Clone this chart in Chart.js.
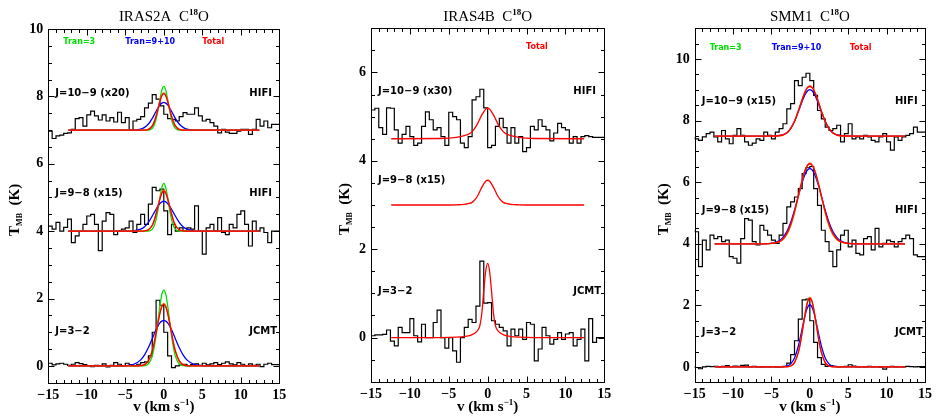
<!DOCTYPE html>
<html><head><meta charset="utf-8">
<script src="https://cdn.jsdelivr.net/npm/chart.js@4.4.1/dist/chart.umd.min.js"></script>
<style>
html,body{margin:0;padding:0;background:#fff;}
#wrap{position:relative;width:936px;height:417px;overflow:hidden;background:#fff;}
canvas{position:absolute;top:0;}
</style></head><body>
<div id="wrap">
<canvas id="c1" width="312" height="417" style="left:0px"></canvas>
<canvas id="c2" width="312" height="417" style="left:312px"></canvas>
<canvas id="c3" width="312" height="417" style="left:624px"></canvas>
</div>
<script>
// ---------------- DATA ----------------
// channel edges (km/s) of the observed spectra
const chanEdges = [-15,-14.5,-14,-13.5,-13,-12.5,-12,-11.5,-11,-10.5,-10,-9.5,-9,-8.5,-8,-7.5,-7,-6.5,-6,-5.5,-5,-4.5,-4,-3.5,-3,-2.5,-2,-1.5,-1,-0.5,0,0.5,1,1.5,2,2.5,3,3.5,4,4.5,5,5.5,6,6.5,7,7.5,8,8.5,9,9.5,10,10.5,11,11.5,12,12.5,13,13.5,14,14.5,15];
// velocities at which the model profiles are sampled (km/s)
const fitVel = [-12.4,-6,-4,-3,-2.5,-2,-1.5,-1.25,-1,-0.75,-0.5,-0.25,0,0.25,0.5,0.75,1,1.25,1.5,2,2.5,3,4,6,12.4];

const xTickValues = [-15,-10,-5,0,5,10,15];
const yTicksIRAS2A = [0,2,4,6,8,10];
const yTicksIRAS4B = [0,2,4,6];
const yTicksSMM1 = [0,2,4,6,8,10];

// IRAS2A observed spectra (T_MB, K, with offsets)
const iras2a_J109 = [7.03,6.97,6.75,6.83,6.85,6.9,6.92,7.02,7.34,7.37,7.12,7.45,7.56,7.42,7.3,7.45,7.27,7.37,7.24,7.53,7.22,7.37,7.0,7.27,7.32,7.4,7.66,7.8,8.05,7.92,7.72,7.47,7.34,7.32,7.27,7.4,7.52,7.47,7.47,7.66,7.42,7.27,7.32,7.22,7.12,6.92,7.02,6.94,6.9,6.9,6.97,7.02,7.02,6.87,7.02,7.32,7.12,7.27,7.07,7.17];
const iras2a_J98 = [4.11,4.15,4.06,4.26,4.0,4.11,4.36,3.66,3.86,4.0,4.2,4.45,4.5,4.2,3.42,4.3,4.55,4.5,3.9,4.0,4.06,4.1,4.3,3.96,4.2,4.5,4.2,4.8,5.3,5.2,5.25,4.6,3.9,4.2,4.0,4.1,4.0,4.1,4.06,4.75,4.0,3.32,4.1,4.2,4.0,4.4,3.96,3.9,4.2,4.1,4.5,4.6,4.2,3.56,4.3,4.0,4.1,3.96,3.66,4.0];
const iras2a_J32 = [0.05,0.08,0.03,0.06,0.08,0.05,0.02,0.05,0.1,0.07,0.04,0.0,-0.02,0.02,0.0,0.06,-0.03,0.02,0.1,0.05,0.0,0.08,0.04,0.0,0.05,0.1,0.12,0.3,1.0,1.95,1.8,1.0,0.3,-0.05,0.0,0.03,0.05,0.0,0.04,0.06,0.02,0.08,0.03,0.06,0.1,0.04,0.08,0.12,0.06,0.03,0.1,0.05,0.0,0.06,0.02,0.05,-0.02,0.05,0.08,0.04];
// IRAS2A model profiles
const iras2a_J109_tran3 = [7,7,7,7,7,7.0,7.05,7.14,7.32,7.59,7.91,8.19,8.30,8.19,7.91,7.59,7.32,7.14,7.05,7.0,7,7,7,7,7];
const iras2a_J109_tran910 = [7,7,7.0,7.03,7.08,7.18,7.35,7.45,7.56,7.66,7.75,7.80,7.82,7.80,7.75,7.66,7.56,7.45,7.35,7.18,7.08,7.03,7.0,7,7];
const iras2a_J109_alt = [7,7,7,7,7,7.02,7.13,7.25,7.42,7.64,7.87,8.04,8.10,8.04,7.87,7.64,7.42,7.25,7.13,7.02,7,7,7,7,7];
const iras2a_J109_total = [7,7,7,7,7,7.02,7.12,7.24,7.41,7.63,7.85,8.02,8.08,8.02,7.85,7.63,7.41,7.24,7.12,7.02,7,7,7,7,7];
const iras2a_J98_tran3 = [4,4,4,4,4,4.0,4.06,4.16,4.35,4.64,5.00,5.30,5.42,5.30,5.00,4.64,4.35,4.16,4.06,4.0,4,4,4,4,4];
const iras2a_J98_tran910 = [4,4,4.01,4.06,4.13,4.26,4.45,4.55,4.65,4.75,4.82,4.87,4.89,4.87,4.82,4.75,4.65,4.55,4.45,4.26,4.13,4.06,4.01,4,4];
const iras2a_J98_alt = [4,4,4,4,4.01,4.04,4.18,4.32,4.52,4.75,4.98,5.16,5.22,5.16,4.98,4.75,4.52,4.32,4.18,4.04,4.01,4,4,4,4];
const iras2a_J98_total = [4,4,4,4,4.01,4.04,4.17,4.31,4.51,4.74,4.96,5.13,5.19,5.13,4.96,4.74,4.51,4.31,4.17,4.04,4.01,4,4,4,4];
const iras2a_J32_tran3 = [0,0,0,0,0.01,0.06,0.29,0.55,0.91,1.35,1.79,2.13,2.25,2.13,1.79,1.35,0.91,0.55,0.29,0.06,0.01,0,0,0,0];
const iras2a_J32_tran910 = [0,0,0.04,0.18,0.33,0.55,0.81,0.95,1.08,1.19,1.28,1.33,1.35,1.33,1.28,1.19,1.08,0.95,0.81,0.55,0.33,0.18,0.04,0,0];
const iras2a_J32_alt = [0,0,0,0.01,0.04,0.15,0.45,0.70,0.99,1.31,1.59,1.79,1.86,1.79,1.59,1.31,0.99,0.70,0.45,0.15,0.04,0.01,0,0,0];
const iras2a_J32_total = [0,0,0,0.01,0.04,0.15,0.44,0.68,0.98,1.28,1.56,1.76,1.83,1.76,1.56,1.28,0.98,0.68,0.44,0.15,0.04,0.01,0,0,0];

// IRAS4B observed spectra
const iras4b_J109 = [5.0,5.15,5.19,4.75,4.6,5.2,5.19,4.7,4.4,4.6,4.78,4.55,4.35,4.4,4.78,5.11,4.93,4.7,4.75,4.55,4.35,5.1,5.0,4.93,4.4,4.3,4.55,5.38,5.45,5.62,5.2,4.3,4.35,4.78,4.96,4.75,4.4,4.75,4.4,4.55,4.21,4.3,4.78,4.7,4.93,4.78,4.7,4.45,4.63,4.85,4.75,4.7,4.4,4.55,4.4,4.55,4.57,4.55,4.53,4.53];
const iras4b_J32 = [0.34,0.04,0.06,0.06,0.07,0.17,-0.08,-0.19,0.23,0.11,0.11,0.43,0.04,-0.1,0.3,0.0,0.0,0.34,0.62,0.0,-0.24,0.0,-0.3,-0.56,0.0,0.23,0.41,0.34,0.71,1.73,0.78,0.79,0.38,0.3,0.23,0.15,-0.19,0.19,0.04,0.19,-0.04,0.34,0.3,-0.53,-0.26,0.23,0.04,-0.15,-0.04,0.11,-0.04,0.08,0.11,-0.19,-0.04,0.19,-0.53,0.43,-0.11,0.0];
// IRAS4B model profiles (total)
const iras4b_J109_total = [4.5,4.505,4.53,4.57,4.6,4.66,4.78,4.86,4.95,5.04,5.11,5.17,5.19,5.17,5.11,5.04,4.95,4.86,4.78,4.66,4.6,4.57,4.53,4.505,4.5];
const iras4b_J98_total = [3.0,3.0,3.005,3.015,3.03,3.06,3.15,3.22,3.31,3.40,3.48,3.54,3.56,3.54,3.48,3.40,3.31,3.22,3.15,3.06,3.03,3.015,3.005,3.0,3.0];
const iras4b_J32_total = [0,0,0.008,0.02,0.035,0.065,0.12,0.17,0.27,0.55,1.05,1.5,1.68,1.5,1.05,0.55,0.27,0.17,0.12,0.065,0.035,0.02,0.008,0,0];

// SMM1 observed spectra
const smm1_J109 = [7.47,7.41,7.36,7.47,7.58,7.63,7.47,7.31,7.68,7.41,7.25,7.52,7.74,7.52,7.31,7.2,7.27,7.41,7.36,7.63,7.52,7.41,7.63,7.74,7.9,8.38,8.55,9.3,9.14,9.41,9.54,9.3,8.82,8.33,8.06,7.79,7.68,7.74,7.85,7.31,7.58,7.9,7.41,7.47,7.41,7.52,7.47,7.36,7.31,7.47,7.58,7.31,7.04,7.47,7.36,7.47,7.52,7.58,7.79,7.63];
const smm1_J98 = [4.44,4.39,3.26,4.12,3.8,4.28,4.17,4.23,4.07,4.12,3.58,3.53,3.37,4.17,4.82,4.77,4.07,3.96,4.6,4.44,4.28,4.12,4.01,4.28,4.66,5.2,5.36,5.52,5.79,6.28,6.47,6.51,5.79,5.25,4.44,4.07,3.75,3.26,3.8,4.28,4.44,3.9,4.12,3.69,3.64,4.17,4.23,3.8,4.5,3.9,4.01,4.12,4.07,3.9,4.07,4.17,4.28,4.17,3.64,3.58];
const smm1_J32 = [0.03,-0.02,-0.06,0.0,0.02,0.01,0.02,0.0,0.02,0.04,0.01,0.03,0.02,0.05,0.06,0.0,0.02,0.0,-0.01,0.01,0.0,0.01,-0.01,0.0,0.02,0.12,0.4,0.85,1.55,2.18,2.2,1.5,0.8,0.3,0.08,0.02,0.04,0.02,0.0,0.01,0.02,0.07,0.03,0.0,0.01,0.0,0.02,0.0,0.01,-0.02,-0.07,0.0,0.02,0.0,0.01,0.0,0.02,0.01,0.0,0.01];
// SMM1 model profiles
const smm1_J109_tran910 = [7.5,7.5,7.52,7.61,7.75,7.98,8.29,8.46,8.63,8.78,8.90,8.98,9.01,8.98,8.90,8.78,8.63,8.46,8.29,7.98,7.75,7.61,7.52,7.5,7.5];
const smm1_J109_alt = [7.5,7.5,7.51,7.60,7.74,7.98,8.32,8.51,8.70,8.87,9.01,9.10,9.13,9.10,9.01,8.87,8.70,8.51,8.32,7.98,7.74,7.60,7.51,7.5,7.5];
const smm1_J109_total = [7.5,7.5,7.51,7.60,7.74,7.97,8.31,8.50,8.68,8.85,8.99,9.08,9.11,9.08,8.99,8.85,8.68,8.50,8.31,7.97,7.74,7.60,7.51,7.5,7.5];
const smm1_J98_tran910 = [4,4,4.10,4.40,4.69,5.09,5.55,5.78,5.99,6.18,6.32,6.41,6.44,6.41,6.32,6.18,5.99,5.78,5.55,5.09,4.69,4.40,4.10,4,4];
const smm1_J98_alt = [4,4,4.06,4.30,4.58,5.0,5.53,5.80,6.06,6.29,6.47,6.58,6.62,6.58,6.47,6.29,6.06,5.80,5.53,5.0,4.58,4.30,4.06,4,4];
const smm1_J98_total = [4,4,4.07,4.34,4.63,5.05,5.56,5.83,6.07,6.29,6.46,6.56,6.6,6.56,6.46,6.29,6.07,5.83,5.56,5.05,4.63,4.34,4.07,4,4];
const smm1_J32_tran910 = [0,0,0.001,0.026,0.10,0.29,0.68,0.95,1.25,1.54,1.79,1.96,2.02,1.96,1.79,1.54,1.25,0.95,0.68,0.29,0.10,0.026,0.001,0,0];
const smm1_J32_alt = [0,0,0,0,0.03,0.14,0.47,0.76,1.13,1.53,1.90,2.17,2.26,2.17,1.90,1.53,1.13,0.76,0.47,0.14,0.03,0,0,0,0];
const smm1_J32_total = [0,0,0,0.004,0.03,0.14,0.47,0.75,1.12,1.51,1.88,2.14,2.23,2.14,1.88,1.51,1.12,0.75,0.47,0.14,0.03,0.004,0,0,0];

// ---------------- STYLE / LAYOUT ----------------
const GREEN = '#00e000', BLUE = '#0000ff', RED = '#ff0000', ORANGE = '#f07000';
const SERIF = '"Liberation Serif", "DejaVu Serif", serif';
const SANS = '"DejaVu Sans", sans-serif';
const legendFont = 'bold 8px ' + SANS;
const labelFont = 'bold 10px ' + SANS;
// drawing order (Chart.js draws higher "order" first, lower on top)
const drawOrder = {spectrum: 10, [GREEN]: 4, [BLUE]: 3, [ORANGE]: 2, [RED]: 1};

function specPoints(vals) {
  const pts = vals.map((v, i) => ({x: chanEdges[i], y: v}));
  pts.push({x: chanEdges[vals.length], y: vals[vals.length - 1]});
  return pts;
}
function fitPoints(vals) { return vals.map((v, i) => ({x: fitVel[i], y: v})); }

function drawRuns(ctx, runs, x, y) {
  ctx.textAlign = 'left'; ctx.textBaseline = 'alphabetic';
  let w = 0;
  for (const r of runs) { ctx.font = r.font; w += ctx.measureText(r.t).width; }
  let cx = x - w / 2;
  for (const r of runs) {
    ctx.font = r.font; ctx.fillStyle = '#000';
    ctx.fillText(r.t, cx, y + (r.dy || 0));
    cx += ctx.measureText(r.t).width;
  }
}

const frameTicks = {
  id: 'frameTicks',
  afterDatasetsDraw(chart, args, o) {
    const {ctx, chartArea: a, scales: {x, y}} = chart;
    const L = Math.round(a.left) + 0.5, R = Math.round(a.right) + 0.5;
    const T = Math.round(a.top) + 0.5, B = Math.round(a.bottom) + 0.5;
    ctx.save();
    ctx.strokeStyle = '#000'; ctx.lineWidth = 1;
    ctx.strokeRect(L, T, R - L, B - T);
    ctx.beginPath();
    for (let k = Math.ceil(x.min / o.xMinor); k * o.xMinor <= x.max + 1e-9; k++) {
      const v = k * o.xMinor;
      const px = Math.round(x.getPixelForValue(v)) + 0.5;
      const major = Math.abs(v / o.xMajor - Math.round(v / o.xMajor)) < 1e-6;
      const len = major ? o.majorLen : o.minorLen;
      ctx.moveTo(px, B); ctx.lineTo(px, B - len);
      ctx.moveTo(px, T); ctx.lineTo(px, T + len);
    }
    for (let k = Math.ceil(y.min / o.yMinor); k * o.yMinor <= y.max + 1e-9; k++) {
      const v = k * o.yMinor;
      const py = Math.round(y.getPixelForValue(v)) + 0.5;
      const major = Math.abs(v / o.yMajor - Math.round(v / o.yMajor)) < 1e-6;
      const len = major ? o.majorLen : o.minorLen;
      ctx.moveTo(L, py); ctx.lineTo(L + len, py);
      ctx.moveTo(R, py); ctx.lineTo(R - len, py);
    }
    ctx.stroke();
    ctx.restore();
  }
};

const panelText = {
  id: 'panelText',
  afterDraw(chart, args, o) {
    const {ctx, chartArea: a, scales: {y}} = chart;
    ctx.save();
    for (const lb of o.labels) {
      ctx.font = lb.font; ctx.fillStyle = lb.color || '#000';
      ctx.textAlign = 'left'; ctx.textBaseline = 'middle';
      const x = lb.side === 'left' ? a.left + lb.dx : a.right - lb.dx;
      ctx.fillText(lb.text, x, y.getPixelForValue(lb.y));
    }
    const cx = (a.left + a.right) / 2;
    drawRuns(ctx, [
      {t: o.title + '  C', font: '15px ' + SERIF},
      {t: '18', font: 'bold 9px ' + SERIF, dy: -6},
      {t: 'O', font: '15px ' + SERIF}
    ], cx, 21);
    drawRuns(ctx, [
      {t: 'v (km s', font: 'bold 15px ' + SERIF},
      {t: '\u22121', font: 'bold 9px ' + SERIF, dy: -6},
      {t: ')', font: 'bold 15px ' + SERIF}
    ], cx, 411);
    ctx.save();
    ctx.translate(a.left - o.yTitleOff, (a.top + a.bottom) / 2 + 4);
    ctx.rotate(-Math.PI / 2);
    drawRuns(ctx, [
      {t: 'T', font: 'bold 15px ' + SERIF},
      {t: 'MB', font: 'bold 8px ' + SERIF, dy: 3},
      {t: '  (K)', font: 'bold 15px ' + SERIF}
    ], 0, 0);
    ctx.restore();
    ctx.restore();
  }
};

const panels = [
  {id: 'c1', title: 'IRAS2A', yMin: -0.5, yMax: 10, yTicks: yTicksIRAS2A, yW: 48.3, padR: 32.7, padT: 29, xH: 34.2, yTitleOff: 29,
   spectra: [iras2a_J109, iras2a_J98, iras2a_J32],
   models: [
     [iras2a_J109_tran3, GREEN], [iras2a_J98_tran3, GREEN], [iras2a_J32_tran3, GREEN],
     [iras2a_J109_tran910, BLUE], [iras2a_J98_tran910, BLUE], [iras2a_J32_tran910, BLUE],
     [iras2a_J109_alt, ORANGE], [iras2a_J98_alt, ORANGE], [iras2a_J32_alt, ORANGE],
     [iras2a_J109_total, RED], [iras2a_J98_total, RED], [iras2a_J32_total, RED]],
   labels: [
     {text: 'Tran=3', color: GREEN, font: legendFont, side: 'left', dx: 15, y: 9.61},
     {text: 'Tran=9+10', color: BLUE, font: legendFont, side: 'left', dx: 77, y: 9.61},
     {text: 'Total', color: RED, font: legendFont, side: 'left', dx: 154, y: 9.61},
     {text: 'J=10\u22129 (x20)', font: labelFont, side: 'left', dx: 7, y: 8.1},
     {text: 'HIFI', font: labelFont, side: 'right', dx: 30, y: 8.1},
     {text: 'J=9\u22128 (x15)', font: labelFont, side: 'left', dx: 7, y: 5.13},
     {text: 'HIFI', font: labelFont, side: 'right', dx: 30, y: 5.13},
     {text: 'J=3\u22122', font: labelFont, side: 'left', dx: 7, y: 1.04},
     {text: 'JCMT', font: labelFont, side: 'right', dx: 30, y: 1.04}]},
  {id: 'c2', title: 'IRAS4B', yMin: -1, yMax: 7, yTicks: yTicksIRAS4B, yW: 59, padR: 19.7, padT: 28.3, xH: 35.3, yTitleOff: 22,
   spectra: [iras4b_J109, iras4b_J32],
   models: [[iras4b_J109_total, RED], [iras4b_J98_total, RED], [iras4b_J32_total, RED]],
   labels: [
     {text: 'Total', color: RED, font: legendFont, side: 'left', dx: 155, y: 6.58},
     {text: 'J=10\u22129 (x30)', font: labelFont, side: 'left', dx: 7, y: 5.58},
     {text: 'HIFI', font: labelFont, side: 'right', dx: 31, y: 5.58},
     {text: 'J=9\u22128 (x15)', font: labelFont, side: 'left', dx: 7, y: 3.55},
     {text: 'J=3\u22122', font: labelFont, side: 'left', dx: 7, y: 1.05},
     {text: 'JCMT', font: labelFont, side: 'right', dx: 31, y: 1.05}]},
  {id: 'c3', title: 'SMM1', yMin: -0.5, yMax: 11, yTicks: yTicksSMM1, yW: 70.7, padR: 9.3, padT: 28.3, xH: 34.7, yTitleOff: 27,
   spectra: [smm1_J109, smm1_J98, smm1_J32],
   models: [
     [smm1_J109_tran910, BLUE], [smm1_J98_tran910, BLUE], [smm1_J32_tran910, BLUE],
     [smm1_J109_alt, ORANGE], [smm1_J98_alt, ORANGE], [smm1_J32_alt, ORANGE],
     [smm1_J109_total, RED], [smm1_J98_total, RED], [smm1_J32_total, RED]],
   labels: [
     {text: 'Tran=3', color: GREEN, font: legendFont, side: 'left', dx: 15, y: 10.37},
     {text: 'Tran=9+10', color: BLUE, font: legendFont, side: 'left', dx: 77, y: 10.37},
     {text: 'Total', color: RED, font: legendFont, side: 'left', dx: 155, y: 10.37},
     {text: 'J=10\u22129 (x15)', font: labelFont, side: 'left', dx: 7, y: 8.62},
     {text: 'HIFI', font: labelFont, side: 'right', dx: 30, y: 8.62},
     {text: 'J=9\u22128 (x15)', font: labelFont, side: 'left', dx: 7, y: 5.09},
     {text: 'HIFI', font: labelFont, side: 'right', dx: 30, y: 5.09},
     {text: 'J=3\u22122', font: labelFont, side: 'left', dx: 7, y: 1.11},
     {text: 'JCMT', font: labelFont, side: 'right', dx: 30, y: 1.11}]}
];

const tickFont = {family: SERIF, weight: 'bold', size: 14};
const fmt = v => (v < 0 ? '\u2212' + (-v) : String(v));

for (const p of panels) {
  const datasets = [];
  for (const s of p.spectra) {
    datasets.push({data: specPoints(s), stepped: 'after', borderColor: '#000', borderWidth: 1.2,
                   pointRadius: 0, fill: false, order: drawOrder.spectrum});
  }
  for (const [m, col] of p.models) {
    datasets.push({data: fitPoints(m), borderColor: col, borderWidth: 1.3, pointRadius: 0,
                   fill: false, cubicInterpolationMode: 'monotone', order: drawOrder[col]});
  }
  new Chart(document.getElementById(p.id), {
    type: 'line',
    data: {datasets},
    options: {
      responsive: false, animation: false, devicePixelRatio: 1,
      layout: {padding: {left: 0, right: p.padR, top: p.padT, bottom: 0}},
      plugins: {
        legend: {display: false}, tooltip: {enabled: false},
        frameTicks: {xMinor: 1, xMajor: 5, yMinor: 0.5, yMajor: 2, majorLen: 6, minorLen: 3.5},
        panelText: {labels: p.labels, title: p.title, yTitleOff: p.yTitleOff}
      },
      scales: {
        x: {type: 'linear', min: -15, max: 15,
            grid: {display: false, drawTicks: false}, border: {display: false},
            ticks: {font: tickFont, color: '#000', padding: 4, maxRotation: 0, autoSkip: false, callback: fmt},
            afterBuildTicks: s => { s.ticks = xTickValues.map(v => ({value: v})); },
            afterFit: s => { s.height = p.xH; }},
        y: {type: 'linear', min: p.yMin, max: p.yMax,
            grid: {display: false, drawTicks: false}, border: {display: false},
            ticks: {font: tickFont, color: '#000', padding: 5, autoSkip: false, callback: fmt},
            afterBuildTicks: s => { s.ticks = p.yTicks.map(v => ({value: v})); },
            afterFit: s => { s.width = p.yW; }}
      }
    },
    plugins: [frameTicks, panelText]
  });
}
</script>
</body></html>
